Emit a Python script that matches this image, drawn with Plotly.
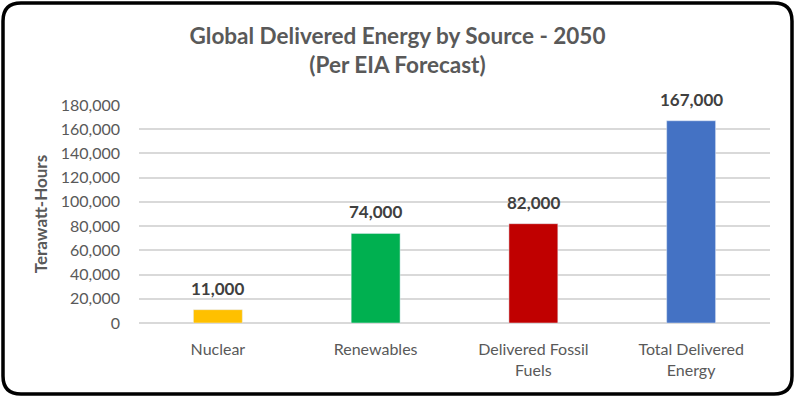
import plotly.graph_objects as go

categories = ["Nuclear", "Renewables", "Delivered Fossil<br>Fuels", "Total Delivered<br>Energy"]
values = [11000, 74000, 82000, 167000]
colors = ["#FFC000", "#00B050", "#C00000", "#4472C4"]
y_ticks = [0, 20000, 40000, 60000, 80000, 100000, 120000, 140000, 160000, 180000]

W, H = 795, 397
L, R, T, B = 139, 25, 105, 74
pw, ph = W - L - R, H - T - B

def px(x):
    return (x - L) / pw

def py(y):
    return (H - B - y) / ph

FONT = "Lato, Calibri, Carlito, sans-serif"
GREY = "#595959"

fig = go.Figure(go.Bar(
    x=categories, y=values, marker_color=colors, width=0.31,
    hoverinfo="x+y",
))

for c, v in zip(categories, values):
    fig.add_annotation(x=c, y=v, text=f"{v:,}", showarrow=False,
                       yanchor="bottom", yshift=9,
                       font=dict(family=FONT, size=17, color="#404040", weight="bold"))

# rounded border
x0, x1, y0, y1, r = 3, 792, 3, 394, 18
path = (f"M {px(x0+r)},{py(y0)} L {px(x1-r)},{py(y0)} Q {px(x1)},{py(y0)} {px(x1)},{py(y0+r)} "
        f"L {px(x1)},{py(y1-r)} Q {px(x1)},{py(y1)} {px(x1-r)},{py(y1)} "
        f"L {px(x0+r)},{py(y1)} Q {px(x0)},{py(y1)} {px(x0)},{py(y1-r)} "
        f"L {px(x0)},{py(y0+r)} Q {px(x0)},{py(y0)} {px(x0+r)},{py(y0)} Z")
fig.add_shape(type="path", path=path, xref="paper", yref="paper",
              line=dict(color="black", width=3.5), layer="above")

fig.update_layout(
    width=W, height=H,
    margin=dict(l=L, r=R, t=T, b=B),
    paper_bgcolor="white", plot_bgcolor="white",
    showlegend=False,
    title=dict(text="Global Delivered Energy by Source - 2050<br>(Per EIA Forecast)",
               x=0.5, xref="container", xanchor="center", y=(H - 44) / H, yanchor="top",
               font=dict(family=FONT, size=22.5, color=GREY, weight="bold")),
    xaxis=dict(showgrid=False, showline=False, ticks="", ticklabelstandoff=15,
               tickfont=dict(family=FONT, size=16, color=GREY)),
    yaxis=dict(range=[0, 180000], tickvals=y_ticks, tickformat=",",
               showgrid=True, gridcolor="#D9D9D9", gridwidth=1.5,
               zeroline=True, zerolinecolor="#D9D9D9", zerolinewidth=1.5,
               showline=False, ticks="", ticklabelstandoff=18,
               tickfont=dict(family=FONT, size=16, color=GREY),
               title=dict(text="Terawatt-Hours", standoff=8,
                          font=dict(family=FONT, size=17, color=GREY, weight="bold"))),
    bargap=0.69,
)

fig.write_html("out.html", config={"displayModeBar": False},
               post_script="document.body.style.margin='0';")
